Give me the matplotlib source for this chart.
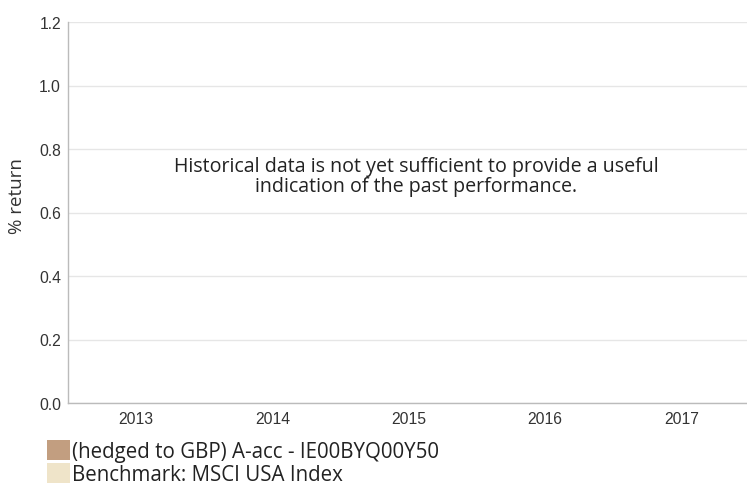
import numpy as np
import matplotlib
matplotlib.use("Agg")
import matplotlib.pyplot as plt
from matplotlib.patches import Patch

years = ["2013", "2014", "2015", "2016", "2017"]
fund_returns = [np.nan, np.nan, np.nan, np.nan, np.nan]
benchmark_returns = [np.nan, np.nan, np.nan, np.nan, np.nan]
series_names = ["(hedged to GBP) A-acc - IE00BYQ00Y50", "Benchmark: MSCI USA Index"]
series_colors = ["#C29E80", "#EFE4C9"]
y_ticks = [0.0, 0.2, 0.4, 0.6, 0.8, 1.0, 1.2]
message = "Historical data is not yet sufficient to provide a useful\nindication of the past performance."

fig = plt.figure(figsize=(7.47, 4.85), dpi=100)
ax = fig.add_axes([68/747, 1-404/485, (749.5-68)/747, (404-23)/485])

x = np.arange(len(years))
w = 0.35
ax.bar(x - w/2, fund_returns, w, color=series_colors[0])
ax.bar(x + w/2, benchmark_returns, w, color=series_colors[1])

ax.set_xlim(-0.5, len(years) - 0.5)
ax.set_ylim(0, 1.2)
ax.set_yticks(y_ticks)
ax.set_yticklabels([f"{v:.1f}" for v in y_ticks])
ax.set_xticks(x)
ax.set_xticklabels(years)
ax.tick_params(axis="both", length=0, labelsize=11.3, labelcolor="#333333",
               labelfontfamily="Liberation Sans")
ax.tick_params(axis="y", pad=5)
ax.tick_params(axis="x", pad=6)
ax.grid(axis="y", color="#E6E6E6", linewidth=1)
ax.set_axisbelow(True)
for s in ["top", "right"]:
    ax.spines[s].set_visible(False)
for s in ["left", "bottom"]:
    ax.spines[s].set_color("#BBBBBB")
    ax.spines[s].set_linewidth(1)

fig.text(17/747, 1-196/485, "% return", rotation=90, ha="center", va="center",
         fontsize=13.5, color="#333333", family="Open Sans")

ax.text((416-68) / (749.5-68), 1 - (177-23)/(404-23), message,
        transform=ax.transAxes, ha="center", va="center", fontsize=14.1,
        color="#222222", family="Open Sans", linespacing=1.05)

handles = [Patch(facecolor=c, edgecolor="none") for c in series_colors]
fig.legend(handles, series_names, loc="upper left", bbox_to_anchor=(41/747, 1-435/485),
           frameon=False, prop={"family": "Open Sans", "size": 14.8},
           handlelength=1.1, handleheight=1.1, handletextpad=0.12,
           labelspacing=0.05, borderaxespad=0, borderpad=0.3, labelcolor="#222222")

fig.savefig("out.png", dpi=100)
